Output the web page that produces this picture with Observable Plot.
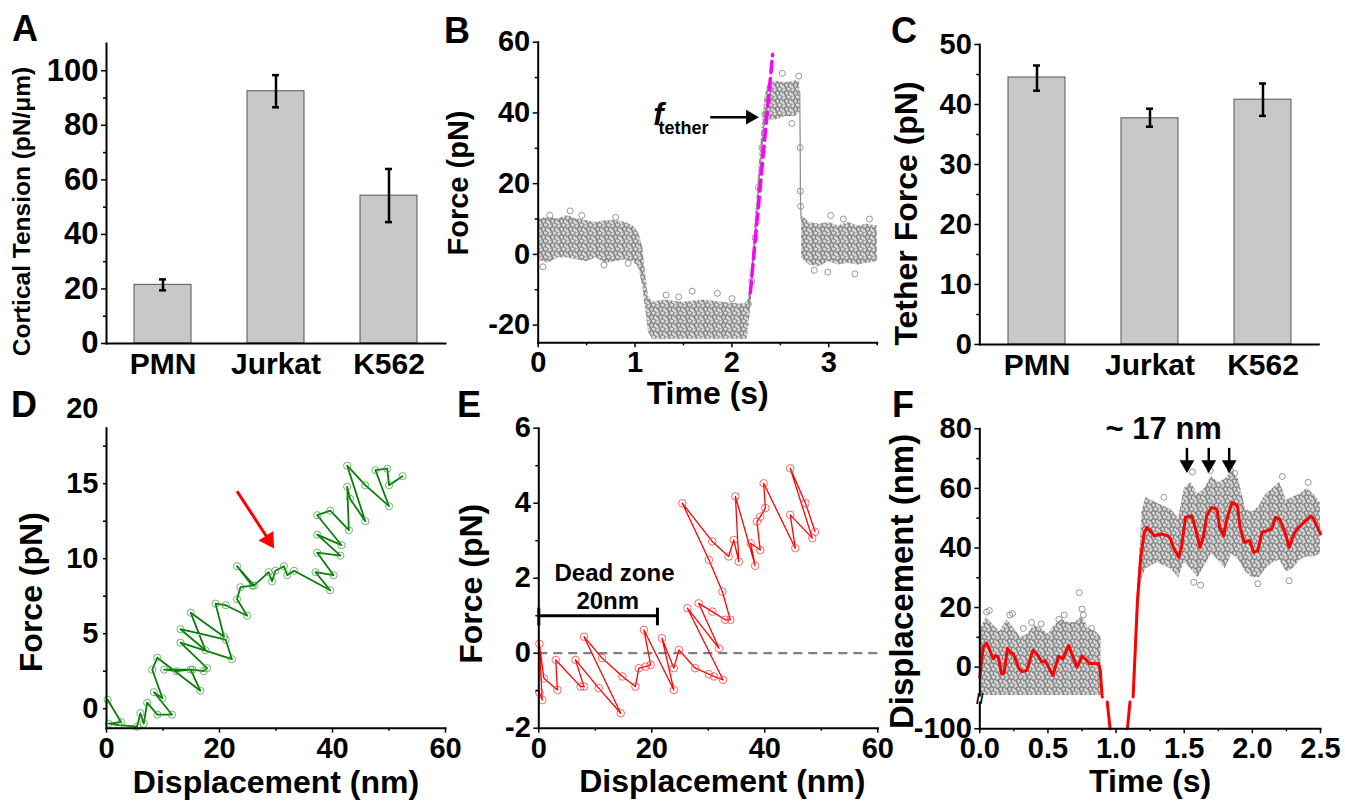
<!DOCTYPE html>
<html><head><meta charset="utf-8">
<script src="https://cdn.jsdelivr.net/npm/d3@7"></script>
<script src="https://cdn.jsdelivr.net/npm/@observablehq/plot@0.6"></script>
<style>
body{margin:0;background:#fff;width:1345px;height:810px;position:relative;overflow:hidden;font-family:"Liberation Sans",Arial,sans-serif;}
.panel{position:absolute;}
.panel svg{overflow:visible;background:transparent;}
.letter{position:absolute;font-weight:bold;font-size:36px;line-height:1;color:#000;}
</style></head>
<body>
<svg width="0" height="0" style="position:absolute"><defs>
<pattern id="cloud" patternUnits="userSpaceOnUse" width="9" height="8">
<circle cx="2" cy="2" r="2.4" fill="none" stroke="#7a7a7a" stroke-width="0.95"/>
<circle cx="6.5" cy="1" r="2.4" fill="none" stroke="#7a7a7a" stroke-width="0.95"/>
<circle cx="4.5" cy="5" r="2.4" fill="none" stroke="#7a7a7a" stroke-width="0.95"/>
<circle cx="8.5" cy="5.5" r="2.4" fill="none" stroke="#7a7a7a" stroke-width="0.95"/>
<circle cx="1" cy="7" r="2.4" fill="none" stroke="#7a7a7a" stroke-width="0.95"/>
</pattern>
</defs></svg>
<div class="letter" style="left:12px;top:11px">A</div>
<div class="letter" style="left:444px;top:13px">B</div>
<div class="letter" style="left:891px;top:13px">C</div>
<div class="letter" style="left:11px;top:387px">D</div>
<div class="letter" style="left:457px;top:387px">E</div>
<div class="letter" style="left:892px;top:387px">F</div>
<script>
// ---------- data ----------
const cats = ["PMN", "Jurkat", "K562"];
const aVals = [21.5, 92.5, 54.2];
const aLo = [19.5, 86.6, 44.5];
const aHi = [23.5, 98.4, 64.0];
const aYTicks = [0, 20, 40, 60, 80, 100];
const aYMinor = [10, 30, 50, 70, 90];

const cVals = [44.5, 37.7, 40.8];
const cLo = [42.3, 36.3, 38.1];
const cHi = [46.5, 39.3, 43.5];
const cYTicks = [0, 10, 20, 30, 40, 50];
const cYMinor = [5, 15, 25, 35, 45];

// B: force trace envelope [t, lo, hi]
const bBand1 = [[0.00,-1.5,10],[0.10,-2.5,10.5],[0.20,-1,10],[0.30,-1,11],[0.40,-1.5,10],[0.50,-2,9.5],[0.60,-1,9],[0.70,-2.5,9.5],[0.80,-2,9.5],[0.90,-1.5,9],[0.98,-2,8],[1.04,-4,6],[1.08,-9,2],[1.11,-16,-6],[1.14,-22,-12],[1.18,-24,-13.5],[1.30,-24,-13],[1.50,-24,-13.5],[1.70,-24,-13],[1.90,-24,-13.5],[2.10,-24,-14],[2.16,-24,-14],[2.19,-16,-9],[2.22,-7,2],[2.25,4,13],[2.28,16,24],[2.31,27,35],[2.34,36,44],[2.37,38,48],[2.45,38,49],[2.55,39,48.5],[2.65,39,49],[2.70,40,49]];
const bBand2 = [[2.72,-1,11],[2.80,-3,9],[2.90,-3.5,8.5],[3.00,-2,9],[3.10,-3,8],[3.20,-2.5,9],[3.30,-3,8],[3.40,-2.5,8.5],[3.50,-2,8]];
const bRise = [[2.17,-14],[2.205,-7.5],[2.24,4.7],[2.274,18.9],[2.31,30.2],[2.34,39.6],[2.38,43.8]];
const bDrop = [[2.70,46],[2.705,30.2],[2.707,17.9],[2.71,13.6],[2.715,10]];
const bOut = [[0.33,12.3],[0.12,11],[0.05,-3.5],[0.68,-3],[0.93,-2.5],[1.32,-11.5],[1.59,-10.4],[1.85,-11],[2.52,51.2],[2.69,50.4],[2.62,37],[3.02,11],[2.99,-5],[3.27,-5.5],[3.42,10],[0.45,11],[0.80,10.5],[1.45,-12],[2.00,-12.5],[2.85,-4.5],[3.15,10]];
const bFit = [[2.19,-10.8],[2.42,56.5]];
const bArrow = [{x1:1.776, x2:2.16, y:38.8, hx:2.19}];
const bXTicks = [0, 1, 2, 3];
const bXMinor = [0.5, 1.5, 2.5, 3.5];
const bYTicks = [-20, 0, 20, 40, 60];
const bYMinor = [-10, 10, 30, 50];

// D: green force-displacement trace [x, y]
const dPts = [[0.2,0.6],[2.6,-0.9],[0.4,-1.0],[2.2,-1.1],[5.4,-1.2],[6.0,-0.3],[6.6,-1.0],[7.2,0.4],[9.0,-0.4],[11.6,-0.4],[8.4,1.1],[9.9,0.7],[8.1,2.6],[9.0,3.4],[16.6,1.2],[14.9,2.6],[12.4,2.5],[10.2,2.6],[15.2,2.6],[17.2,2.5],[17.8,2.7],[13.1,4.4],[22.2,3.3],[21.1,4.6],[13.1,5.3],[17.5,3.9],[14.9,6.4],[20.8,4.8],[19.3,7.0],[21.1,6.9],[24.9,6.2],[23.1,7.3],[23.7,8.1],[25.8,8.2],[23.1,9.5],[26.1,8.2],[28.7,9.1],[29.3,8.5],[29.9,9.2],[31.4,9.5],[32.0,8.9],[33.2,9.2],[39.6,7.9],[37.0,9.1],[40.2,8.9],[37.3,10.4],[41.4,10.2],[37.3,11.6],[41.6,10.9],[37.3,12.9],[39.6,13.2],[42.9,11.9],[42.6,14.8],[43.1,14.0],[45.8,12.5],[42.6,16.2],[45.8,14.9],[50.0,13.5],[47.6,15.9],[49.7,16.0],[50.0,14.9],[52.4,15.5]];
const dArrow = [{x1:23.1, y1:14.5, x2:28.3, y2:11.5, hx:28.7, hy:11.25}];
const dYLabels = [0, 5, 10, 15, 20];
const dYMinor = [0, 2.5, 5, 7.5, 10, 12.5, 15, 17.5];
const xTicks60 = [0, 20, 40, 60];
const xMinor60 = [10, 30, 50];

// E: red force-displacement trace [x, y]
const ePts = [[0.1,-1.05],[0.6,-1.25],[0.1,0.25],[0.9,-0.67],[3.3,-0.98],[3.0,-0.18],[7.4,-0.89],[8.0,-0.89],[6.5,-0.18],[10.6,-0.93],[14.5,-1.6],[8.0,0.44],[11.2,-0.13],[14.8,-0.62],[17.1,-0.89],[17.7,-0.4],[18.9,-0.36],[19.8,-0.31],[18.6,0.62],[23.9,-0.98],[21.8,0.4],[23.9,-0.4],[24.8,0.09],[27.7,-0.4],[30.1,-0.56],[31.0,-0.62],[32.6,-0.71],[26.3,1.2],[31.9,0.13],[28.3,1.33],[30.7,1.11],[33.0,0.89],[33.9,0.89],[32.5,1.64],[30.1,2.49],[25.4,4.0],[30.7,2.98],[33.6,2.58],[34.5,3.02],[35.4,2.44],[34.8,4.18],[38.3,2.33],[37.5,2.93],[39.2,2.75],[38.6,3.51],[39.2,3.64],[40.1,3.87],[39.8,4.53],[45.4,2.8],[44.5,3.69],[48.4,3.07],[44.5,4.93],[47.2,4.0],[48.9,3.24]];
const deadX = [0, 21];
const deadY = 1;
const deadCap = [0.73, 1.2];
const eYTicks = [-2, 0, 2, 4, 6];
const eYMinor = [-1, 1, 3, 5];
const eTexts = [{x:13.4, y:2.13, s:"Dead zone"}, {x:12.2, y:1.39, s:"20nm"}];

// F: displacement trace; smoothed red line [t, v] (NaN = break), cloud envelopes [t, lo, hi]
const fRed = [[0.00,-3.4],[0.025,6.7],[0.05,8.1],[0.074,5.6],[0.098,2.8],[0.117,3.9],[0.135,3.4],[0.16,-2.2],[0.178,-2.0],[0.203,6.3],[0.227,4.9],[0.247,4.3],[0.284,-0.2],[0.309,-1.5],[0.346,-1.1],[0.389,5.6],[0.418,4.5],[0.455,1.7],[0.48,2.2],[0.536,-2.8],[0.578,3.6],[0.61,2.8],[0.652,7.3],[0.689,2.8],[0.713,0.0],[0.75,3.6],[0.774,2.8],[0.806,1.1],[0.835,1.3],[0.872,1.1],[0.884,-1.1],[0.897,-9.5],[0.899,-10],[NaN,NaN],[0.935,-90],[0.956,-100],[NaN,NaN],[1.083,-100],[1.102,-90],[NaN,NaN],[1.125,-10],[1.157,22.3],[1.181,36.9],[1.205,44.7],[1.225,46.9],[1.25,45.8],[1.28,44.1],[1.33,44.7],[1.38,44.1],[1.40,43.0],[1.42,40.2],[1.46,36.9],[1.48,40.2],[1.51,50.3],[1.556,50.8],[1.58,46.9],[1.616,40.2],[1.64,43.6],[1.665,50.8],[1.70,53.6],[1.74,53.0],[1.76,46.9],[1.79,44.1],[1.81,49.1],[1.85,55.3],[1.89,54.2],[1.91,46.9],[1.94,41.9],[1.98,42.5],[2.01,38.5],[2.04,39.1],[2.07,45.2],[2.11,45.8],[2.14,46.3],[2.17,50.3],[2.20,49.7],[2.24,45.2],[2.27,40.2],[2.31,45.2],[2.34,46.9],[2.39,49.1],[2.43,50.8],[2.45,49.7],[2.50,44.7]];
const fBand1 = [[0.00,-9.5,12],[0.05,-9.5,17],[0.10,-9.5,14],[0.15,-9.5,12],[0.20,-9.5,16],[0.25,-9.5,13],[0.30,-9.5,10],[0.35,-9.5,11],[0.40,-9.5,14],[0.45,-9.5,13],[0.50,-9.5,11],[0.55,-9.5,14],[0.60,-9.5,16],[0.65,-9.5,15],[0.70,-9.5,15],[0.75,-9.5,17],[0.80,-9.5,13],[0.85,-9.5,12],[0.89,-9.5,10]];
const fBand2 = [[1.13,-9.5,-4],[1.15,5,20],[1.17,22,35],[1.19,30,52],[1.22,33,57],[1.30,35,55],[1.40,33,53],[1.46,30,50],[1.50,35,60],[1.55,33,62],[1.60,30,58],[1.65,34,60],[1.70,38,64],[1.75,36,62],[1.80,33,63],[1.85,38,66],[1.90,36,63],[1.95,32,53],[2.00,30,52],[2.05,30,54],[2.10,33,58],[2.15,35,60],[2.20,36,62],[2.25,32,56],[2.30,33,57],[2.35,36,58],[2.40,37,60],[2.45,37,58],[2.50,38,55]];
const fOut = [[0.05,18.5],[0.07,19],[0.22,17.5],[0.24,18],[0.45,14.5],[0.58,16],[0.62,17.5],[0.73,25],[0.75,19.5],[0.76,17.5],[0.82,13],[1.56,65.5],[1.69,66],[1.84,66],[1.87,65],[1.62,27.5],[1.57,28.5],[2.04,28],[2.27,29],[0.32,13],[0.38,15],[1.35,57],[2.22,64],[2.41,62]];
const fArrows = [1.52, 1.68, 1.83];
const fArrowY = [73.6, 69.2, 68.0];
const fNote = [{t:1.35, v:80, s:"~ 17 nm"}];
const fYTicks = [0, 20, 40, 60, 80];
const fYMinor = [10, 30, 50, 70];
const fXTicks = [0, 0.5, 1.0, 1.5, 2.0, 2.5];
const fXMinor = [0.25, 0.75, 1.25, 1.75, 2.25];
const fAxisTop = 80.2, fGapTop = -10, fLowTop = -90, fLowBottom = -100;

// ---------- helpers ----------
const FONT = "'Liberation Sans', Arial, Helvetica, sans-serif";
const STYLE = {fontFamily: FONT, fontWeight: "bold", background: "transparent", overflow: "visible", color: "#000"};
const TF = 29;
const plain = d => `${d}`;
function place(svg, left, top) {
  const d = document.createElement("div");
  d.className = "panel"; d.style.left = left + "px"; d.style.top = top + "px";
  d.appendChild(svg); document.body.appendChild(d);
}
const yTitle = (s, dx, dy, fs) => Plot.text([s], {text: d => d, frameAnchor: "left", textAnchor: "middle", dx, dy, rotate: -90, fontSize: fs});
const xTitle = (s, dx, dy, fs) => Plot.text([s], {text: d => d, frameAnchor: "bottom", textAnchor: "middle", dx, dy, fontSize: fs});
const yAx = (major, minor, opts = {}) => [
  Plot.axisY({ticks: major, tickSize: 5, tickPadding: 3, fontSize: TF, strokeWidth: 1.5, label: null, tickFormat: plain, ...opts}),
  Plot.axisY({ticks: minor, tickSize: 3, tickFormat: () => "", strokeWidth: 1.5, label: null})
];
const xAx = (major, minor, opts = {}) => [
  Plot.axisX({ticks: major, tickSize: 5, tickPadding: 4, fontSize: TF, strokeWidth: 1.5, label: null, tickFormat: plain, ...opts}),
  Plot.axisX({ticks: minor, tickSize: 3, tickFormat: () => "", strokeWidth: 1.5, label: null})
];
const axesLines = [Plot.frame({anchor: "left", strokeWidth: 2}), Plot.frame({anchor: "bottom", strokeWidth: 2})];
const cloud = (data, acc) => [
  Plot.areaY(data.map(acc), {x: "t", y1: "lo", y2: "hi", fill: "#d6d6d6"}),
  Plot.areaY(data.map(acc), {x: "t", y1: "lo", y2: "hi", fill: "url(#cloud)"})
];

// ---------- A & C ----------
function barPanel(vals, lo, hi, yDomain, yT, yM, title, tdx, tdy, tfs, ml, mr, tfsz) {
  const data = cats.map((c, i) => ({cat: c, val: vals[i], lo: lo[i], hi: hi[i]}));
  return Plot.plot({
    width: ml + 339 + mr, height: 420, marginLeft: ml, marginRight: mr, marginTop: 43, marginBottom: 77,
    style: STYLE,
    x: {domain: cats, paddingInner: 0.5, paddingOuter: 0.25, label: null},
    y: {domain: yDomain, label: null},
    marks: [
      Plot.barY(data, {x: "cat", y: "val", fill: "#c8c8c8", stroke: "#555", strokeWidth: 1}),
      Plot.ruleX(data, {x: "cat", y1: "lo", y2: "hi", stroke: "#000", strokeWidth: 2.5}),
      Plot.tickY(data, {x: "cat", y: "lo", insetLeft: 25, insetRight: 25, strokeWidth: 2.5}),
      Plot.tickY(data, {x: "cat", y: "hi", insetLeft: 25, insetRight: 25, strokeWidth: 2.5}),
      ...axesLines,
      ...yAx(yT, yM, {fontSize: tfsz}),
      Plot.axisX({tickSize: 0, tickPadding: 9, fontSize: 30, label: null}),
      yTitle(title, tdx, tdy, tfs)
    ]
  });
}
place(barPanel(aVals, aLo, aHi, [0, 110], aYTicks, aYMinor, "Cortical Tension (pN/\u03bcm)", -84, 18, 24.5, 106, 15, 31), 0, 0);
place(barPanel(cVals, cLo, cHi, [0, 50], cYTicks, cYMinor, "Tether Force (pN)", -72.6, 19, 32, 109.3, 20, 29), 870, 1.3);

// ---------- B ----------
const P = a => ({t: a[0], v: a[1]});
const Bd = a => ({t: a[0], lo: a[1], hi: a[2]});
place(Plot.plot({
  width: 440, height: 420, marginLeft: 97.7, marginRight: 3.3, marginTop: 41.7, marginBottom: 77.7,
  style: STYLE, x: {domain: [0, 3.5], label: null}, y: {domain: [-25, 60], label: null},
  marks: [
    ...cloud(bBand1, Bd),
    ...cloud(bBand2, Bd),
    Plot.line(bRise.map(P), {x: "t", y: "v", stroke: "#8a8a8a", strokeWidth: 1.2}),
    Plot.dot(bRise.map(P), {x: "t", y: "v", r: 3, stroke: "#8a8a8a", strokeWidth: 0.9}),
    Plot.line(bDrop.map(P), {x: "t", y: "v", stroke: "#8a8a8a", strokeWidth: 1.2}),
    Plot.dot(bDrop.slice(1, 4).map(P), {x: "t", y: "v", r: 3, stroke: "#8a8a8a", strokeWidth: 0.9}),
    Plot.dot(bOut.map(P), {x: "t", y: "v", r: 3, stroke: "#8a8a8a", strokeWidth: 0.9}),
    Plot.line(bFit.map(P), {x: "t", y: "v", stroke: "#ff00ff", strokeWidth: 3.5, strokeDasharray: "11,6"}),
    Plot.link(bArrow, {x1: "x1", x2: "x2", y1: "y", y2: "y", stroke: "#000", strokeWidth: 2.5}),
    Plot.dot(bArrow, {x: "hx", y: "y", symbol: "triangle", r: 5.5, fill: "#000", stroke: "none", rotate: 90}),
    Plot.text(["f"], {text: d => d, x: 1.24, y: 39.3, fontSize: 31, fontStyle: "italic"}),
    Plot.text(["tether"], {text: d => d, x: 1.50, y: 35.8, fontSize: 18}),
    ...axesLines,
    ...yAx(bYTicks, bYMinor),
    ...xAx(bXTicks, bXMinor),
    yTitle("Force (pN)", -79.4, -9.5, 29),
    xTitle("Time (s)", 0, 61.5, 32)
  ]
}), 440, 0);

// ---------- D ----------
const XY = a => ({x: a[0], y: a[1]});
place(Plot.plot({
  width: 460, height: 430, marginLeft: 106, marginRight: 15, marginTop: 47.7, marginBottom: 82.3,
  style: STYLE, x: {domain: [0, 60], label: null}, y: {domain: [-1.3, 18.7], label: null},
  marks: [
    Plot.line(dPts.map(XY), {x: "x", y: "y", stroke: "#0a7d0a", strokeWidth: 1.8}),
    Plot.dot(dPts.map(XY), {x: "x", y: "y", r: 3.6, stroke: "#3f9f3f", strokeOpacity: 0.75, strokeWidth: 1, fill: "none"}),
    Plot.link(dArrow, {x1: "x1", y1: "y1", x2: "x2", y2: "y2", stroke: "#ff0000", strokeWidth: 3}),
    Plot.dot(dArrow, {x: "hx", y: "hy", symbol: "triangle", r: 6.5, fill: "#ff0000", stroke: "none", rotate: 147.5}),
    ...axesLines,
    Plot.axisY({ticks: dYLabels, tickSize: 0, tickPadding: 8, fontSize: TF, label: null, tickFormat: plain}),
    Plot.axisY({ticks: dYMinor, tickSize: 3, tickFormat: () => "", strokeWidth: 1.5, label: null}),
    ...xAx(xTicks60, xMinor60),
    yTitle("Force (pN)", -74.3, 14, 32),
    xTitle("Displacement (nm)", 0, 65, 32)
  ]
}), 0, 380);

// ---------- E ----------
place(Plot.plot({
  width: 440, height: 430, marginLeft: 98.3, marginRight: 2.7, marginTop: 47.7, marginBottom: 82.3,
  style: STYLE, x: {domain: [0, 60], label: null}, y: {domain: [-2, 6], label: null},
  marks: [
    Plot.ruleY([0], {stroke: "#808080", strokeWidth: 2.2, strokeDasharray: "9,6"}),
    Plot.line(ePts.map(XY), {x: "x", y: "y", stroke: "#ff0000", strokeWidth: 1.3}),
    Plot.dot(ePts.map(XY), {x: "x", y: "y", r: 3.8, stroke: "#ff4040", strokeOpacity: 0.8, strokeWidth: 1, fill: "none"}),
    Plot.ruleY([deadY], {x1: deadX[0], x2: deadX[1], stroke: "#000", strokeWidth: 3}),
    Plot.ruleX(deadX, {y1: deadCap[0], y2: deadCap[1], stroke: "#000", strokeWidth: 3}),
    Plot.text(eTexts, {x: "x", y: "y", text: "s", fontSize: 24}),
    ...axesLines,
    ...yAx(eYTicks, eYMinor),
    ...xAx(xTicks60, xMinor60),
    yTitle("Force (pN)", -67, 5.6, 32),
    xTitle("Displacement (nm)", 14, 64, 32)
  ]
}), 440, 380);

// ---------- F (broken y axis) ----------
const brk = v => v >= fGapTop ? v : (v <= fLowTop ? -11.7 + (v - fLowTop) * 0.9 : NaN);
const fBottom = brk(fLowBottom);
const FB = a => ({t: a[0], lo: brk(a[1]), hi: brk(a[2])});
const FP = a => ({t: a[0], v: brk(a[1])});
place(Plot.plot({
  width: 475, height: 430, marginLeft: 109.3, marginRight: 25, marginTop: 47.7, marginBottom: 81.7,
  style: STYLE, x: {domain: [0, 2.5], label: null}, y: {domain: [fBottom, fAxisTop], label: null},
  marks: [
    ...cloud(fBand1, FB),
    ...cloud(fBand2, FB),
    Plot.dot(fOut.map(FP), {x: "t", y: "v", r: 3, stroke: "#8a8a8a", strokeWidth: 0.9}),
    Plot.line(fRed.map(FP), {x: "t", y: "v", stroke: "#ff0000", strokeWidth: 3}),
    Plot.link(fArrows, {x1: d => d, x2: d => d, y1: () => fArrowY[0], y2: () => fArrowY[1], stroke: "#000", strokeWidth: 2.5}),
    Plot.dot(fArrows, {x: d => d, y: () => fArrowY[2], symbol: "triangle", r: 5.5, fill: "#000", stroke: "none", rotate: 180}),
    Plot.text(fNote, {x: "t", y: "v", text: "s", fontSize: 31}),
    Plot.ruleX([0], {y1: fGapTop, y2: fAxisTop, strokeWidth: 2}),
    Plot.ruleX([0], {y1: fBottom, y2: brk(fLowTop), strokeWidth: 2}),
    Plot.text(["//"], {text: d => d, x: 0, y: -10.9, fontSize: 14}),
    Plot.frame({anchor: "bottom", strokeWidth: 2}),
    ...yAx(fYTicks, fYMinor),
    Plot.axisY({ticks: [fBottom], tickSize: 5, tickPadding: 3, fontSize: TF, strokeWidth: 1.5, label: null, tickFormat: () => String(fLowBottom)}),
    ...xAx(fXTicks, fXMinor, {tickFormat: d3.format(".1f")}),
    yTitle("Displacement (nm)", -77.6, 3, 33),
    xTitle("Time (s)", 0, 62.7, 32)
  ]
}), 870, 380);
</script>
</body></html>
